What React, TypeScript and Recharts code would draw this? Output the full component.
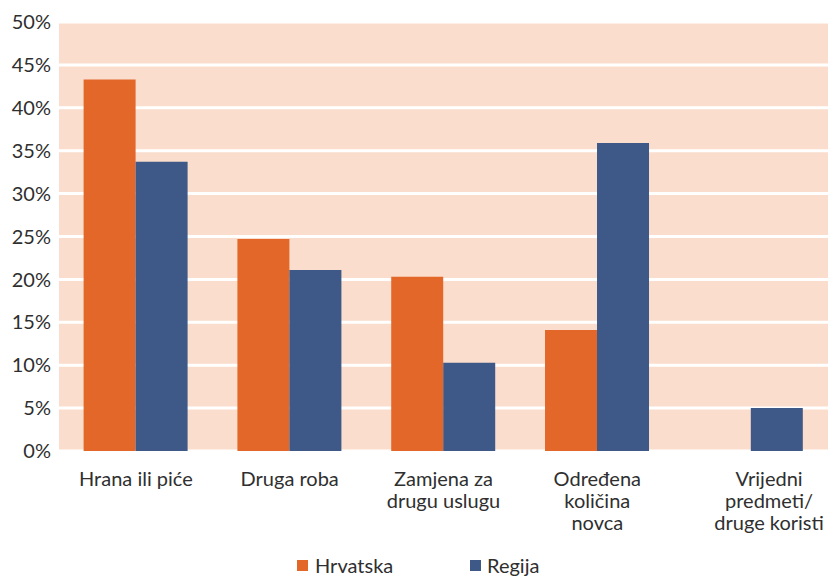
import React from 'react';
import { BarChart, Bar, XAxis, YAxis, CartesianGrid, Legend } from 'recharts';

const categories = ['Hrana ili piće', 'Druga roba', 'Zamjena za drugu uslugu', 'Određena količina novca', 'Vrijedni predmeti/ druge koristi'];
const categoryLines = [
  ['Hrana ili piće'],
  ['Druga roba'],
  ['Zamjena za', 'drugu uslugu'],
  ['Određena', 'količina', 'novca'],
  ['Vrijedni', 'predmeti/', 'druge koristi'],
];
const hrvatska = [43.3, 24.7, 20.3, 14.1, 0];
const regija = [33.7, 21.1, 10.3, 35.9, 5.0];
const yTicks = [0, 5, 10, 15, 20, 25, 30, 35, 40, 45, 50];
const seriesNames = ['Hrvatska', 'Regija'];

const data = categories.map((c, i) => ({ name: c, idx: i, h: hrvatska[i], r: regija[i] }));

const FONT = 'Lato, "Open Sans", sans-serif';
const ORANGE = '#E4672A';
const BLUE = '#3E5888';
const TEXT = '#2f2f2f';

const XTick = (props: any) => {
  const { x, y, payload } = props;
  const lines = categoryLines[payload.index] || [String(payload.value)];
  const cx = payload.index === categoryLines.length - 1 ? x + 18 : x;
  return (
    <text x={cx} y={y} textAnchor="middle" fill={TEXT} fontSize={20} fontFamily={FONT}>
      {lines.map((l, i) => (
        <tspan key={i} x={cx} y={y + 27 + i * 22}>{l}</tspan>
      ))}
    </text>
  );
};

const LegendContent = () => (
  <div style={{ position: 'relative', height: 30, width: 833, fontFamily: FONT, fontSize: 20, color: TEXT }}>
    <div style={{ position: 'absolute', left: 297, top: 12, width: 11, height: 11, background: ORANGE }} />
    <div style={{ position: 'absolute', left: 315, top: 5, lineHeight: '24px' }}>{seriesNames[0]}</div>
    <div style={{ position: 'absolute', left: 470, top: 12, width: 11, height: 11, background: BLUE }} />
    <div style={{ position: 'absolute', left: 487, top: 5, lineHeight: '24px' }}>{seriesNames[1]}</div>
  </div>
);

export default function App() {
  return (
    <div style={{ position: 'absolute', left: 0, top: 0, width: 833, height: 578, background: '#fff' }}>
      <BarChart width={833} height={578} data={data} margin={{ top: 22, right: 5, bottom: 0, left: 0 }} barCategoryGap="16%" barGap={0}>
        <CartesianGrid horizontal={true} vertical={false} stroke="white" strokeOpacity={1} strokeWidth={3} fill="#FADDCC" fillOpacity={1} />
        <XAxis dataKey="name" axisLine={false} tickLine={false} interval={0} height={97} tick={<XTick />} />
        <YAxis domain={[0, 50]} ticks={yTicks} axisLine={false} tickLine={false} width={59} tickFormatter={(v: number) => `${v}%`} tick={{ fill: TEXT, fontSize: 20, fontFamily: FONT }} tickMargin={2} />
        <Legend verticalAlign="bottom" content={<LegendContent />} height={30} />
        <Bar dataKey="h" name={seriesNames[0]} fill={ORANGE} isAnimationActive={false} />
        <Bar dataKey="r" name={seriesNames[1]} fill={BLUE} isAnimationActive={false} />
      </BarChart>
    </div>
  );
}
